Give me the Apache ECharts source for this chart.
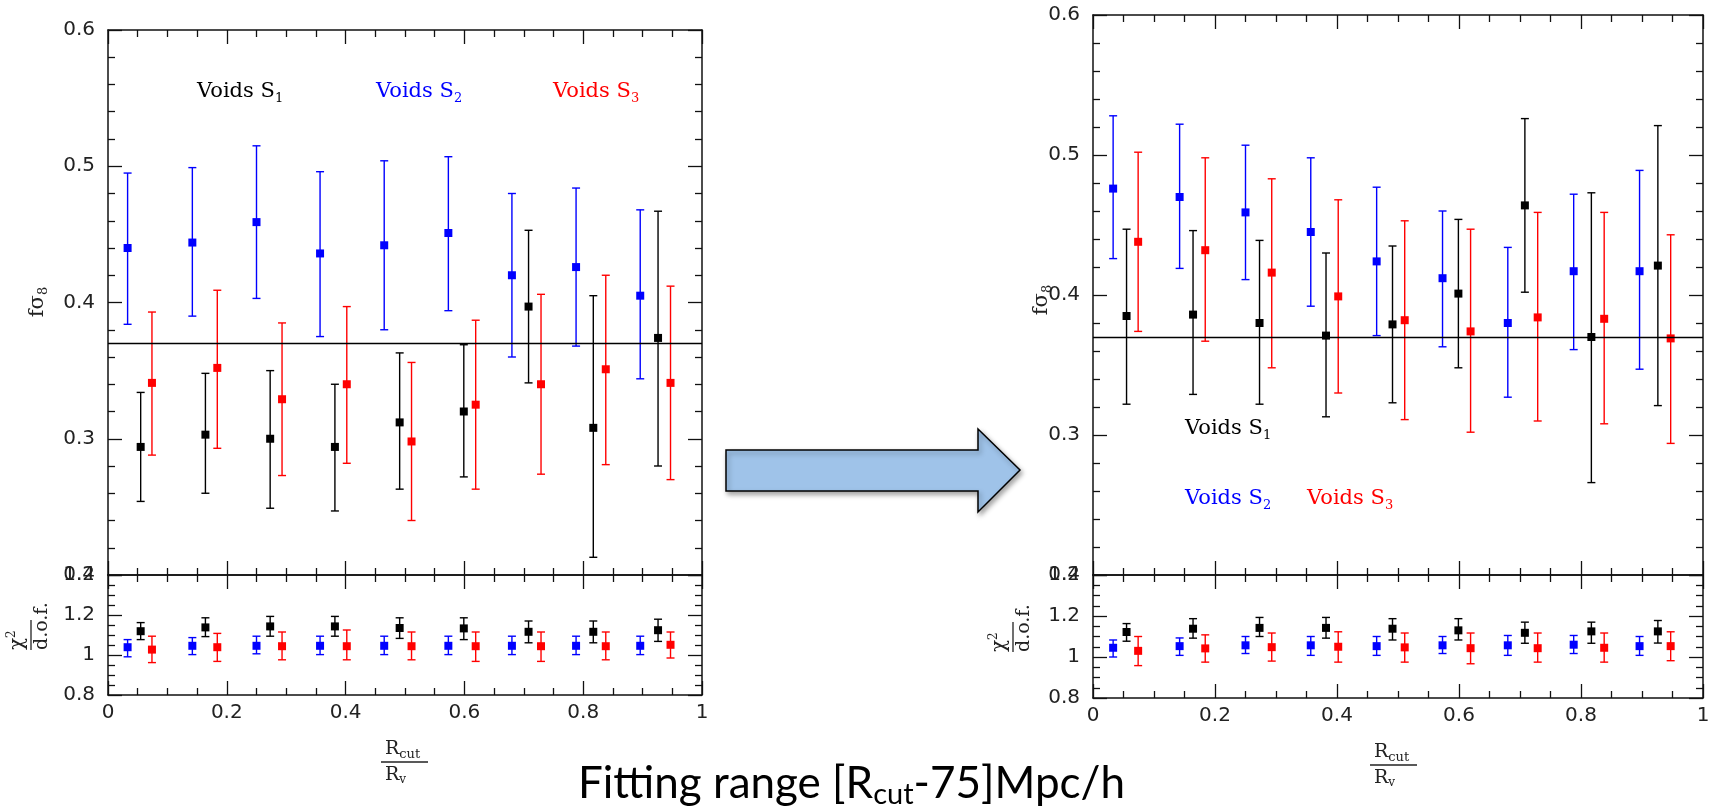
<!DOCTYPE html>
<html><head><meta charset="utf-8">
<script src="https://cdn.jsdelivr.net/npm/echarts@6/dist/echarts.min.js"></script>
<style>html,body{margin:0;padding:0;background:#fff}#c{width:1713px;height:809px}</style>
</head><body><div id="c"></div>
<script>
// ---------- data ----------
const xTicks = [0, 0.2, 0.4, 0.6, 0.8, 1];
const xS1 = [0.055,0.164,0.273,0.382,0.491,0.599,0.708,0.817,0.926];
const xS2 = [0.033,0.142,0.250,0.357,0.465,0.573,0.680,0.788,0.896];
const xS3 = [0.074,0.184,0.293,0.402,0.511,0.619,0.729,0.838,0.947];
const refValue = 0.371;

// left panel: f sigma8
const leftS1   = [0.294,0.303,0.300,0.294,0.312,0.320,0.397,0.308,0.374];
const leftS1Lo = [0.254,0.260,0.249,0.247,0.263,0.272,0.341,0.213,0.280];
const leftS1Hi = [0.334,0.348,0.350,0.340,0.363,0.369,0.453,0.405,0.467];
const leftS2   = [0.440,0.444,0.459,0.436,0.442,0.451,0.420,0.426,0.405];
const leftS2Lo = [0.384,0.390,0.403,0.375,0.380,0.394,0.360,0.368,0.344];
const leftS2Hi = [0.495,0.499,0.515,0.496,0.504,0.507,0.480,0.484,0.468];
const leftS3   = [0.341,0.352,0.329,0.340,0.298,0.325,0.340,0.351,0.341];
const leftS3Lo = [0.288,0.293,0.273,0.282,0.240,0.263,0.274,0.281,0.270];
const leftS3Hi = [0.393,0.409,0.385,0.397,0.356,0.387,0.406,0.420,0.412];
// left panel: chi2 / d.o.f.
const leftChiS1   = [1.119,1.138,1.143,1.143,1.135,1.133,1.116,1.116,1.124];
const leftChiS1Lo = [1.077,1.092,1.094,1.094,1.083,1.077,1.061,1.061,1.068];
const leftChiS1Hi = [1.162,1.186,1.193,1.193,1.186,1.186,1.170,1.170,1.179];
const leftChiS2   = [1.039,1.046,1.046,1.046,1.046,1.046,1.046,1.046,1.046];
const leftChiS2Lo = [0.991,1.002,1.006,1.002,1.002,1.002,1.002,1.002,1.002];
const leftChiS2Hi = [1.077,1.087,1.094,1.094,1.094,1.094,1.094,1.094,1.094];
const leftChiS3   = [1.027,1.039,1.044,1.044,1.044,1.044,1.044,1.044,1.051];
const leftChiS3Lo = [0.962,0.968,0.976,0.976,0.976,0.968,0.968,0.976,0.985];
const leftChiS3Hi = [1.094,1.108,1.115,1.125,1.115,1.115,1.115,1.115,1.115];

// right panel: f sigma8
const rightS1   = [0.385,0.386,0.380,0.371,0.379,0.401,0.464,0.370,0.421];
const rightS1Lo = [0.322,0.329,0.322,0.313,0.323,0.348,0.402,0.266,0.321];
const rightS1Hi = [0.447,0.446,0.439,0.430,0.435,0.454,0.526,0.473,0.521];
const rightS2   = [0.476,0.470,0.459,0.445,0.424,0.412,0.380,0.417,0.417];
const rightS2Lo = [0.426,0.419,0.411,0.392,0.371,0.363,0.327,0.361,0.347];
const rightS2Hi = [0.528,0.522,0.507,0.498,0.477,0.460,0.434,0.472,0.489];
const rightS3   = [0.438,0.432,0.416,0.399,0.382,0.374,0.384,0.383,0.369];
const rightS3Lo = [0.374,0.367,0.348,0.330,0.311,0.302,0.310,0.308,0.294];
const rightS3Hi = [0.502,0.498,0.483,0.468,0.453,0.447,0.459,0.459,0.443];
// right panel: chi2 / d.o.f.
const rightChiS1   = [1.122,1.138,1.142,1.142,1.138,1.130,1.118,1.125,1.125];
const rightChiS1Lo = [1.077,1.092,1.100,1.092,1.083,1.083,1.067,1.067,1.068];
const rightChiS1Hi = [1.163,1.187,1.193,1.193,1.187,1.187,1.170,1.170,1.178];
const rightChiS2   = [1.045,1.053,1.057,1.057,1.053,1.057,1.057,1.060,1.053];
const rightChiS2Lo = [1.000,1.008,1.017,1.008,1.008,1.017,1.008,1.017,1.008];
const rightChiS2Hi = [1.083,1.093,1.100,1.100,1.100,1.100,1.105,1.105,1.100];
const rightChiS3   = [1.030,1.042,1.048,1.050,1.047,1.043,1.043,1.045,1.053];
const rightChiS3Lo = [0.958,0.975,0.980,0.975,0.975,0.967,0.975,0.975,0.982];
const rightChiS3Hi = [1.100,1.108,1.117,1.123,1.117,1.117,1.117,1.117,1.123];

// ---------- styling ----------
const AX = '#111', TXT = '#222';
const SANS = 'DejaVu Sans', SERIF = 'DejaVu Serif';
const C1 = '#000000', C2 = '#0000ff', C3 = '#ff0000';

const grids = [
  {left:108,  top:30,  width:594, height:545},
  {left:108,  top:575, width:594, height:120},
  {left:1093, top:15,  width:610, height:560},
  {left:1093, top:575, width:610, height:123}
].map(g => Object.assign({outerBoundsMode:'none', containLabel:false, show:false}, g));

function xAx(gi, pos, labels){
  return {type:'value', gridIndex:gi, position:pos, min:0, max:1, interval:0.2,
    axisLine:{show:true, onZero:false, lineStyle:{color:AX, width:1.5}},
    axisTick:{show:true, inside:true, length:14, lineStyle:{color:AX, width:1.3}},
    minorTick:{show:true, splitNumber:4, length:7, lineStyle:{color:AX, width:1.3}},
    splitLine:{show:false}, minorSplitLine:{show:false},
    axisLabel:{show:labels, margin:8, color:TXT, fontFamily:SANS, fontSize:20,
      formatter: v => String(xTicks.find(t => Math.abs(t - v) < 1e-9) ?? v)}};
}
function yAx(gi, pos, min, max, interval, minorSplit, labels){
  return {type:'value', gridIndex:gi, position:pos, min, max, interval,
    axisLine:{show:true, onZero:false, lineStyle:{color:AX, width:1.5}},
    axisTick:{show:true, inside:true, length:14, lineStyle:{color:AX, width:1.3}},
    minorTick:{show:true, splitNumber:minorSplit, length:7, lineStyle:{color:AX, width:1.3}},
    splitLine:{show:false}, minorSplitLine:{show:false},
    axisLabel:{show:labels, margin:13, color:TXT, fontFamily:SANS, fontSize:20,
      formatter: v => String(Math.round(v * 10) / 10)}};
}

const xAxis = [], yAxis = [];
[0,1,2,3].forEach(gi => {
  const bottomPanel = gi % 2 === 1;
  xAxis.push(xAx(gi, 'bottom', bottomPanel));
  xAxis.push(xAx(gi, 'top', false));
  if (bottomPanel) {
    yAxis.push(yAx(gi, 'left', 0.8, 1.4, 0.2, 4, true));
    yAxis.push(yAx(gi, 'right', 0.8, 1.4, 0.2, 4, false));
  } else {
    yAxis.push(yAx(gi, 'left', 0.2, 0.6, 0.1, 5, true));
    yAxis.push(yAx(gi, 'right', 0.2, 0.6, 0.1, 5, false));
  }
});

function renderErr(params, api){
  const x = api.value(0), lo = api.value(1), hi = api.value(2);
  const p1 = api.coord([x, lo]), p2 = api.coord([x, hi]);
  const w = 4;
  const style = {stroke: api.visual('color'), lineWidth: 1.4};
  return {type:'group', children:[
    {type:'line', shape:{x1:p1[0], y1:p1[1], x2:p2[0], y2:p2[1]}, style},
    {type:'line', shape:{x1:p1[0]-w, y1:p1[1], x2:p1[0]+w, y2:p1[1]}, style},
    {type:'line', shape:{x1:p2[0]-w, y1:p2[1], x2:p2[0]+w, y2:p2[1]}, style}
  ]};
}

const series = [];
function addSet(gi, xs, vals, lo, hi, color, withRef){
  series.push({type:'custom', xAxisIndex:gi*2, yAxisIndex:gi*2, renderItem:renderErr,
    itemStyle:{color}, encode:{x:0, y:[1,2]}, z:2,
    data: xs.map((x,i) => [x, lo[i], hi[i]])});
  const s = {type:'scatter', xAxisIndex:gi*2, yAxisIndex:gi*2, symbol:'rect', symbolSize:8,
    itemStyle:{color, opacity:1}, z:3, data: xs.map((x,i) => [x, vals[i]])};
  if (withRef) s.markLine = {silent:true, symbol:['none','none'], label:{show:false},
    lineStyle:{color:'#000', width:1.3, type:'solid'}, data:[{yAxis: refValue}]};
  series.push(s);
}
addSet(0, xS2, leftS2, leftS2Lo, leftS2Hi, C2, false);
addSet(0, xS3, leftS3, leftS3Lo, leftS3Hi, C3, false);
addSet(0, xS1, leftS1, leftS1Lo, leftS1Hi, C1, true);
addSet(1, xS2, leftChiS2, leftChiS2Lo, leftChiS2Hi, C2, false);
addSet(1, xS3, leftChiS3, leftChiS3Lo, leftChiS3Hi, C3, false);
addSet(1, xS1, leftChiS1, leftChiS1Lo, leftChiS1Hi, C1, false);
addSet(2, xS2, rightS2, rightS2Lo, rightS2Hi, C2, false);
addSet(2, xS3, rightS3, rightS3Lo, rightS3Hi, C3, false);
addSet(2, xS1, rightS1, rightS1Lo, rightS1Hi, C1, true);
addSet(3, xS2, rightChiS2, rightChiS2Lo, rightChiS2Hi, C2, false);
addSet(3, xS3, rightChiS3, rightChiS3Lo, rightChiS3Hi, C3, false);
addSet(3, xS1, rightChiS1, rightChiS1Lo, rightChiS1Hi, C1, false);

// ---------- annotations ----------
function richSub(main, sub, size, subSize, drop, color, family){
  return {text:`{a|${main}}{s|${sub}}`, fill:color,
    rich:{a:{fontFamily:family, fontSize:size, fill:color},
          s:{fontFamily:family, fontSize:subSize, fill:color, padding:[drop,0,0,0]}}};
}
function voids(x, y, n, color){
  return {type:'text', x, y, z:10,
    style:Object.assign({align:'left', verticalAlign:'middle'}, richSub('Voids S', String(n), 21, 13, 14, color, SERIF))};
}
function fsig(x, y){
  return {type:'text', x, y, rotation:Math.PI/2, z:10,
    style:Object.assign({align:'center', verticalAlign:'middle'}, richSub('fσ', '8', 21, 13, 12, TXT, SERIF))};
}
function chiTitle(x, y){
  return {type:'group', x, y, rotation:Math.PI/2, children:[
    {type:'text', x:0, y:-1, style:{text:'{a|χ}{p|2}', align:'left', verticalAlign:'bottom',
      rich:{a:{fontFamily:SERIF, fontSize:20, fill:TXT}, p:{fontFamily:SERIF, fontSize:12, fill:TXT, padding:[0,0,12,0]}}}},
    {type:'line', shape:{x1:0, y1:0, x2:30, y2:0}, style:{stroke:TXT, lineWidth:1.3}},
    {type:'text', x:0, y:2, style:{text:'d.o.f.', align:'left', verticalAlign:'top', fill:TXT, fontFamily:SERIF, fontSize:19}}
  ]};
}
function rTitle(x, y){
  return {type:'group', x, y, children:[
    {type:'text', x:4, y:-1, style:Object.assign({align:'left', verticalAlign:'bottom'}, richSub('R', 'cut', 19, 13, 10, TXT, SERIF))},
    {type:'line', shape:{x1:0, y1:0, x2:47, y2:0}, style:{stroke:TXT, lineWidth:1.3}},
    {type:'text', x:4, y:2, style:Object.assign({align:'left', verticalAlign:'top'}, richSub('R', 'v', 19, 12, 10, TXT, SERIF))}
  ]};
}

const graphic = [
  voids(197, 92, 1, C1), voids(376, 92, 2, C2), voids(553, 92, 3, C3),
  voids(1185, 429, 1, C1), voids(1185, 499, 2, C2), voids(1307, 499, 3, C3),
  fsig(38, 302), fsig(1042, 300),
  chiTitle(31, 650), chiTitle(1013, 652),
  rTitle(381, 762), rTitle(1370, 765),
  {type:'polygon', z:5, shape:{points:[[726,450],[978,450],[978,429],[1020,470],[978,512],[978,491],[726,491]]},
   style:{fill:'#9fc3e9', stroke:'#000', lineWidth:1.5, shadowBlur:5, shadowOffsetX:2, shadowOffsetY:3, shadowColor:'rgba(0,0,0,0.35)'}},
  {type:'text', x:578, y:784, z:10, style:{text:'{a|Fitting range [R}{s|cut}{a|-75]Mpc/h}', align:'left', verticalAlign:'middle', fill:'#000',
    rich:{a:{fontFamily:'Lato', fontSize:44, fill:'#000'}, s:{fontFamily:'Lato', fontSize:29, fill:'#000', padding:[22,0,0,0]}}}}
];

const chart = echarts.init(document.getElementById('c'), null, {renderer:'canvas'});
chart.setOption({animation:false, backgroundColor:'#fff', grid:grids, xAxis, yAxis, series, graphic});
</script>
</body></html>
